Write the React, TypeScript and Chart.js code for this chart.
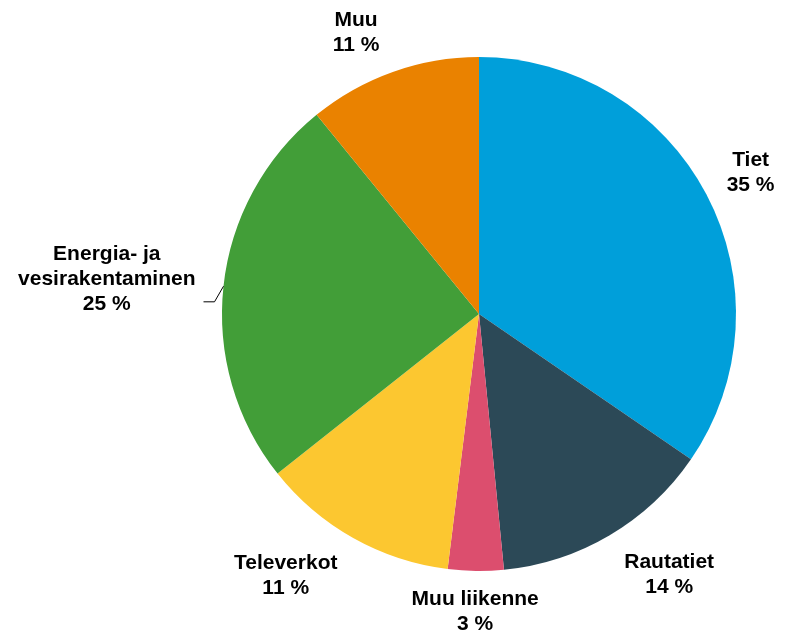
import React, { useEffect, useRef } from "react";
import { Chart, registerables } from "chart.js";

Chart.register(...registerables);

const categories = ["Tiet", "Rautatiet", "Muu liikenne", "Televerkot", "Energia- ja vesirakentaminen", "Muu"];
const labelLines = [
  ["Tiet", "35 %"],
  ["Rautatiet", "14 %"],
  ["Muu liikenne", "3 %"],
  ["Televerkot", "11 %"],
  ["Energia- ja", "vesirakentaminen", "25 %"],
  ["Muu", "11 %"],
];
const shares = [34.6, 13.9, 3.5, 12.4, 24.8, 10.9];
const colors = ["#009FDA", "#2C4957", "#DC4E6E", "#FCC730", "#429E38", "#EA8200"];

// label placement relative to a point 50px outside the arc on its mid angle
const labelNudge = [
  [0, 2],
  [34, -4],
  [0, -9],
  [-43, -6],
  [-67, -2],
  [-20, 8],
];
const leaderFor = [false, false, false, false, true, false];

const FONT = "bold 21px 'Liberation Sans', Arial, sans-serif";
const LINE_H = 25;

const outsideLabels = {
  id: "outsideLabels",
  afterDatasetsDraw(chart: any) {
    const ctx = chart.ctx;
    const meta = chart.getDatasetMeta(0);
    ctx.save();
    ctx.font = FONT;
    ctx.fillStyle = "#000";
    ctx.textAlign = "center";
    ctx.textBaseline = "middle";
    meta.data.forEach((arc: any, i: number) => {
      const { x, y, startAngle, endAngle, outerRadius } = arc.getProps(
        ["x", "y", "startAngle", "endAngle", "outerRadius"],
        true
      );
      const mid = (startAngle + endAngle) / 2;
      const r = outerRadius + 50;
      const cx = x + Math.cos(mid) * r + labelNudge[i][0];
      const cy = y + Math.sin(mid) * r + labelNudge[i][1];
      const lines = labelLines[i];
      let w = 0;
      lines.forEach((ln, k) => {
        w = Math.max(w, ctx.measureText(ln).width);
        ctx.fillText(ln, cx, cy + (k - (lines.length - 1) / 2) * LINE_H);
      });
      if (leaderFor[i]) {
        const px = x + Math.cos(mid) * outerRadius;
        const py = y + Math.sin(mid) * outerRadius;
        const ex = cx + w / 2 + 19;
        const ey = cy + 23;
        ctx.beginPath();
        ctx.strokeStyle = "#000";
        ctx.lineWidth = 1;
        ctx.moveTo(px, py);
        ctx.lineTo(ex, ey);
        ctx.lineTo(ex - 11, ey);
        ctx.stroke();
      }
    });
    ctx.restore();
  },
};

export default function App() {
  const ref = useRef<HTMLCanvasElement>(null);
  useEffect(() => {
    if (!ref.current) return;
    const chart = new Chart(ref.current, {
      type: "pie",
      data: {
        labels: categories,
        datasets: [
          {
            data: shares,
            backgroundColor: colors,
            borderWidth: 0,
          },
        ],
      },
      options: {
        responsive: false,
        animation: false,
        layout: { padding: { left: 222, top: 57, right: 53, bottom: 63 } },
        plugins: {
          legend: { display: false },
          tooltip: { enabled: false },
        },
      },
      plugins: [outsideLabels],
    });
    return () => chart.destroy();
  }, []);
  return (
    <div style={{ position: "absolute", left: 0, top: 0, width: 789, height: 634, background: "#fff" }}>
      <canvas ref={ref} width={789} height={634} style={{ display: "block" }} />
    </div>
  );
}
